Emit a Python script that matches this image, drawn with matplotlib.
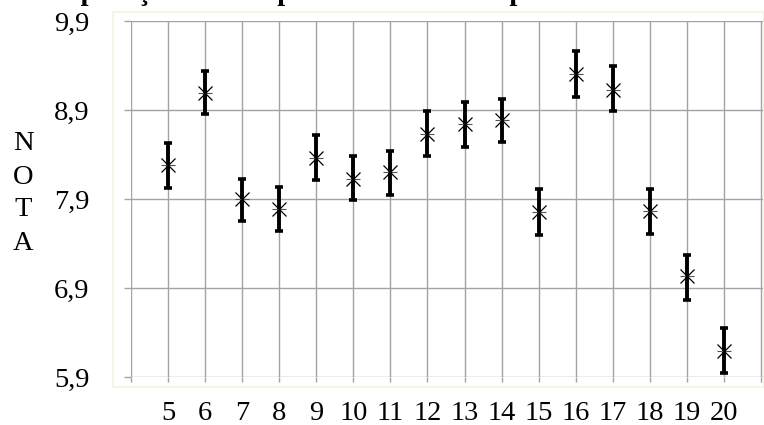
import matplotlib
matplotlib.use("Agg")
import matplotlib.pyplot as plt
from matplotlib.patches import Rectangle

# ---- data ----
idades = [5, 6, 7, 8, 9, 10, 11, 12, 13, 14, 15, 16, 17, 18, 19, 20]
media = [8.28, 9.09, 7.90, 7.79, 8.36, 8.13, 8.20, 8.63, 8.74, 8.79, 7.75, 9.31, 9.12, 7.77, 7.03, 6.19]
limite_sup = [8.53, 9.34, 8.13, 8.04, 8.62, 8.38, 8.44, 8.89, 8.99, 9.02, 8.01, 9.56, 9.39, 8.01, 7.27, 6.45]
limite_inf = [8.02, 8.85, 7.65, 7.54, 8.11, 7.89, 7.95, 8.38, 8.48, 8.54, 7.50, 9.05, 8.89, 7.51, 6.77, 5.95]
y_ticks = [5.9, 6.9, 7.9, 8.9, 9.9]
titulo = "Comparação entre a proficiência média por idade"
y_rotulo = ["N", "O", "T", "A"]

W, H = 764, 425
fig = plt.figure(figsize=(W / 100, H / 100), dpi=100)
fig.patch.set_facecolor("white")

serif = ["Liberation Serif", "DejaVu Serif"]
FS = 20.5

# faint plot-area border
fig.patches.append(Rectangle((113 / W, 1 - 387 / H), (W - 113) / W, (387 - 12) / H,
                             transform=fig.transFigure, facecolor="none",
                             edgecolor="#f4f4e2", lw=1.2))

ax = fig.add_axes([131 / W, 48 / H, (W - 131) / W, 356 / H])
ax.set_facecolor("none")

ax.set_xlim(4, 4 + (W - 131) / 37.06)
ax.set_ylim(min(y_ticks), max(y_ticks))

xt = [idades[0] - 1] + idades + [idades[-1] + 1]
ax.set_xticks(xt)
ax.set_xticklabels([""] + [str(v) for v in idades] + [""])
ax.set_yticks(y_ticks)
ax.set_yticklabels([f"{v:.1f}".replace(".", ",") for v in y_ticks])

grid_c = "#a3a3a3"
ax.grid(True, color=grid_c, lw=1.0, zorder=0)
for s in ax.spines.values():
    s.set_visible(False)
ax.tick_params(axis="y", length=5, width=1.0, color=grid_c, pad=25,
               labelsize=FS, labelfontfamily="Liberation Serif")
ax.tick_params(axis="x", length=3.6, width=1.0, color=grid_c, pad=14,
               labelsize=FS, labelfontfamily="Liberation Serif")

yerr = [[m - lo for m, lo in zip(media, limite_inf)],
        [hi - m for m, hi in zip(media, limite_sup)]]
ax.errorbar(idades, media, yerr=yerr, fmt="none", ecolor="black",
            elinewidth=2.8, capsize=3.0, capthick=2.6, zorder=3, clip_on=False)
ax.plot(idades, media, linestyle="none", marker="_", markersize=10.5,
        markeredgewidth=0.8, color="#555555", zorder=4, clip_on=False)
ax.plot(idades, media, linestyle="none", marker="x", markersize=10,
        markeredgewidth=0.9, color="black", zorder=5, clip_on=False)

# vertical NOTA label
for i, ch in enumerate(y_rotulo):
    fig.text(23 / W, 1 - (144 + 33 * i) / H, ch, ha="center", va="center",
             fontsize=FS, family=serif)

# title, mostly cut off at top (only descenders visible)
fig.text(22 / W, 1 - 0.5 / H, titulo, ha="left", va="baseline",
         fontsize=FS, fontweight="bold", family=serif)

fig.savefig("out.png", dpi=100)
